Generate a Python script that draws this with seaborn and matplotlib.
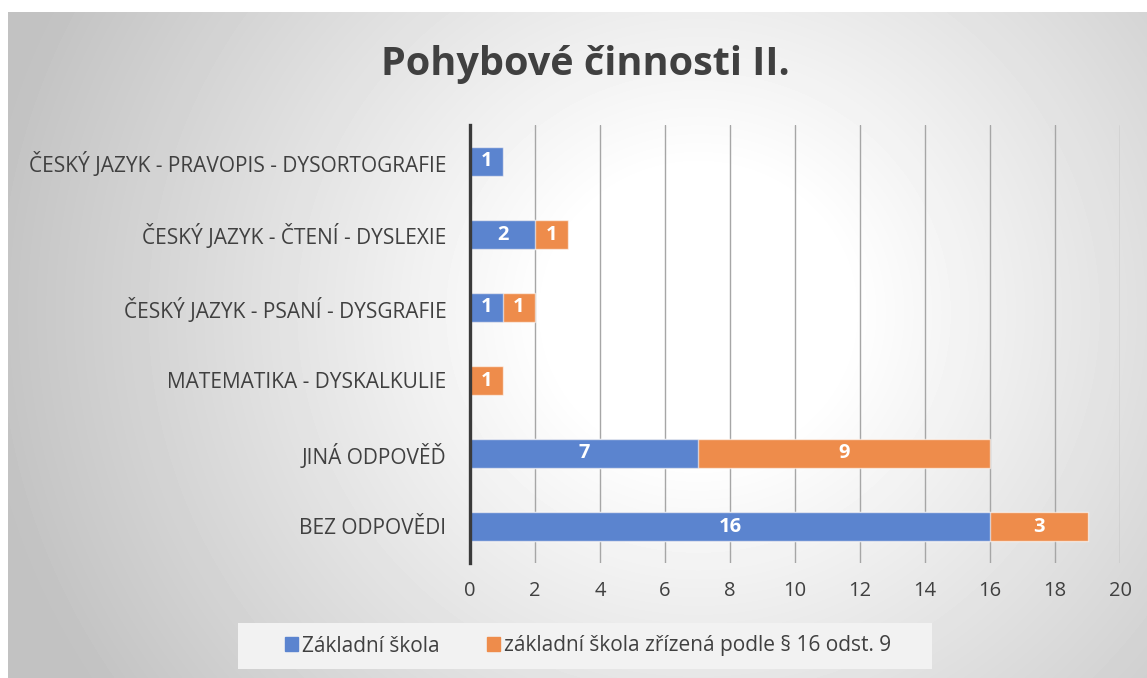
import numpy as np
import pandas as pd
import seaborn as sns
import matplotlib.pyplot as plt

categories = [
    "ČESKÝ JAZYK - PRAVOPIS - DYSORTOGRAFIE",
    "ČESKÝ JAZYK - ČTENÍ - DYSLEXIE",
    "ČESKÝ JAZYK - PSANÍ - DYSGRAFIE",
    "MATEMATIKA - DYSKALKULIE",
    "JINÁ ODPOVĚĎ",
    "BEZ ODPOVĚDI",
]
zakladni = [1, 2, 1, 0, 7, 16]
zakladni_16 = [0, 1, 1, 1, 9, 3]
series_names = ["Základní škola", "základní škola zřízená podle § 16 odst. 9"]
xticks = list(range(0, 21, 2))

blue = "#5b84cf"
orange = "#ee8c4b"
text_col = "#404040"

sns.set_style("white")
plt.rcParams["font.family"] = ["Open Sans", "DejaVu Sans"]

df = pd.DataFrame({"cat": categories, "zs": zakladni, "zs16": zakladni_16})
df["total"] = df["zs"] + df["zs16"]

fig = plt.figure(figsize=(11.47, 6.78), dpi=100)

# radial background of the chart area
bg = fig.add_axes([8 / 1147, 0, 1 - 8 / 1147, 1 - 12 / 678], zorder=-10)
W, H = 1139, 666
yy, xx = np.mgrid[0:H, 0:W]
d = np.sqrt((xx - 690) ** 2 + ((yy - 300) * 1.05) ** 2)
val = np.clip(1 - np.maximum(0, d - 150) * 0.00042, 0.76, 1.0)
bg.imshow(val, cmap="gray", vmin=0, vmax=1, aspect="auto", interpolation="bilinear")
bg.axis("off")

ax = fig.add_axes([470 / 1147, 1 - 563 / 678, (1120 - 470) / 1147, (563 - 125) / 678])
ax.patch.set_alpha(0)

sns.barplot(data=df, x="total", y="cat", orient="h", color=orange, saturation=1,
            width=0.39, edgecolor=(1, 1, 1, 0.6), linewidth=1, ax=ax, zorder=3)
sns.barplot(data=df, x="zs", y="cat", orient="h", color=blue, saturation=1,
            width=0.39, edgecolor=(1, 1, 1, 0.6), linewidth=1, ax=ax, zorder=4)

for i, row in df.iterrows():
    if row["zs"] > 0:
        ax.text(row["zs"] / 2, i, str(row["zs"]), ha="center", va="center",
                color="white", fontsize=14.5, fontweight="bold", zorder=5)
    if row["zs16"] > 0:
        ax.text(row["zs"] + row["zs16"] / 2, i, str(row["zs16"]), ha="center",
                va="center", color="white", fontsize=14.5, fontweight="bold", zorder=5)

ax.set_xlim(0, 20)
ax.set_ylim(5.5, -0.5)
ax.set_xticks(xticks)
ax.set_xlabel("")
ax.set_ylabel("")
ax.grid(axis="x", color="#a6a6a6", linewidth=1, zorder=0)
ax.grid(axis="y", visible=False)
for s in ["top", "right", "bottom"]:
    ax.spines[s].set_visible(False)
ax.spines["left"].set_color("#3a3a3a")
ax.spines["left"].set_linewidth(2.4)
ax.spines["left"].set_zorder(6)
ax.tick_params(axis="y", length=0, pad=17, labelsize=15, labelcolor=text_col)
ax.tick_params(axis="x", length=0, pad=13, labelsize=14.5, labelcolor=text_col)

fig.text(585 / 1147, 1 - 64 / 678, "Pohybové činnosti II.", ha="center", va="center",
         fontsize=28.5, fontweight="bold", color=text_col)

# legend background box
fig.patches.append(plt.Rectangle((238 / 1147, 1 - 669 / 678), (932 - 238) / 1147, 46 / 678,
                                 transform=fig.transFigure, facecolor="#f2f2f2",
                                 edgecolor="none", zorder=1))

handles = [plt.Rectangle((0, 0), 1, 1, color=blue), plt.Rectangle((0, 0), 1, 1, color=orange)]
leg = fig.legend(handles, series_names, loc="center", bbox_to_anchor=(588 / 1147, 1 - 646 / 678),
                 ncol=2, frameon=False, fontsize=15, handlelength=0.63, handleheight=0.63,
                 handletextpad=0.2, columnspacing=2.25)
for t in leg.get_texts():
    t.set_color(text_col)

fig.savefig("out.png", dpi=100)
